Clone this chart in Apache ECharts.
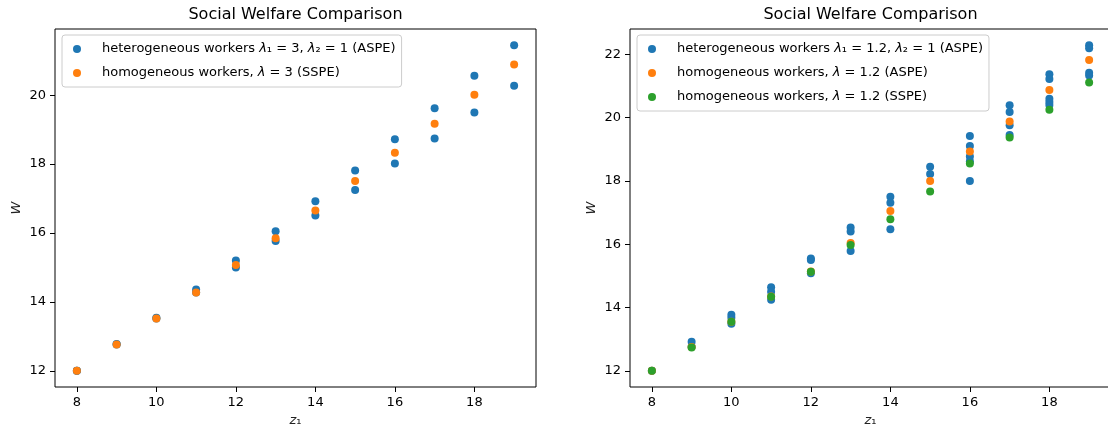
<!DOCTYPE html>
<html><head><meta charset="utf-8">
<script src="https://cdn.jsdelivr.net/npm/echarts@6/dist/echarts.min.js"></script>
<style>html,body{margin:0;padding:0;background:#fff}#c{width:1108px;height:430px}</style>
</head><body><div id="c"></div>
<script>
const z1 = [8, 9, 10, 11, 12, 13, 14, 15, 16, 17, 18, 19];
const xTicks = [8, 10, 12, 14, 16, 18];
const leftYTicks = [12, 14, 16, 18, 20];
const rightYTicks = [12, 14, 16, 18, 20, 22];
const xRange = [7.45, 19.55];
const leftYRange = [11.53, 21.92];
const rightYRange = [11.49, 22.80];

const chartTitle = 'Social Welfare Comparison';
const leftNames = [
  'heterogeneous workers λ₁ = 3, λ₂ = 1 (ASPE)',
  'homogeneous workers, λ = 3 (SSPE)'
];
const rightNames = [
  'heterogeneous workers λ₁ = 1.2, λ₂ = 1 (ASPE)',
  'homogeneous workers, λ = 1.2 (ASPE)',
  'homogeneous workers, λ = 1.2 (SSPE)'
];

// Left panel
const leftHeteroHigh = [12.00, 12.78, 13.54, 14.36, 15.20, 16.05, 16.92, 17.81, 18.72, 19.62, 20.56, 21.45];
const leftHeteroLow  = [12.00, 12.76, 13.52, 14.27, 15.00, 15.77, 16.51, 17.25, 18.02, 18.74, 19.50, 20.27];
const leftHomoSSPE   = [12.00, 12.76, 13.52, 14.27, 15.07, 15.85, 16.65, 17.51, 18.33, 19.17, 20.01, 20.89];

// Right panel (several heterogeneous outcomes per z1)
const rightHetero = [
  [12.00],
  [12.92, 12.76],
  [13.77, 13.68, 13.49],
  [14.64, 14.50, 14.25],
  [15.55, 15.50, 15.08],
  [16.53, 16.40, 15.79],
  [17.50, 17.31, 16.47],
  [18.45, 18.22],
  [19.42, 19.10, 18.77, 18.62, 18.00],
  [20.39, 20.18, 19.76, 19.45],
  [21.37, 21.22, 20.60, 20.49, 20.40],
  [22.29, 22.19, 21.42, 21.33]
];
const rightHomoASPE = [12.00, 12.75, 13.55, 14.35, 15.14, 16.04, 17.05, 18.00, 18.93, 19.88, 20.87, 21.82];
const rightHomoSSPE = [12.00, 12.74, 13.55, 14.34, 15.13, 15.98, 16.79, 17.67, 18.55, 19.37, 20.25, 21.11];

const FONT = 'DejaVu Sans';
const colors = ['#1f77b4', '#ff7f0e', '#2ca02c'];

const pairs = (vals) => z1.map((z, i) => [z, vals[i]]);
const leftHeteroData = z1.flatMap((z, i) => [[z, leftHeteroHigh[i]], [z, leftHeteroLow[i]]]);
const rightHeteroData = z1.flatMap((z, i) => rightHetero[i].map(v => [z, v]));

function xAxisFor(gi) {
  return {
    type: 'value', gridIndex: gi, min: xRange[0], max: xRange[1],
    axisLine: { show: false },
    axisTick: { show: true, customValues: xTicks, length: 5, lineStyle: { color: '#000', width: 1 } },
    axisLabel: { customValues: xTicks, margin: 9, color: '#000', fontSize: 13, fontFamily: FONT },
    splitLine: { show: false },
    name: '{it|z}₁', nameLocation: 'middle', nameGap: 27,
    nameTextStyle: { color: '#222', fontSize: 13, fontFamily: FONT,
      rich: { it: { fontStyle: 'italic', fontSize: 13, fontFamily: FONT, color: '#222' } } }
  };
}
function yAxisFor(gi, range, ticks) {
  return {
    type: 'value', gridIndex: gi, min: range[0], max: range[1],
    axisLine: { show: false },
    axisTick: { show: true, customValues: ticks, length: 5, lineStyle: { color: '#000', width: 1 } },
    axisLabel: { customValues: ticks, margin: 9, color: '#000', fontSize: 13, fontFamily: FONT },
    splitLine: { show: false },
    name: 'W', nameLocation: 'middle', nameRotate: 90, nameGap: 32,
    nameTextStyle: { color: '#222', fontSize: 13, fontStyle: 'italic', fontFamily: FONT }
  };
}
function legendFor(left, names) {
  return {
    orient: 'vertical', left: left, top: 35,
    padding: [6, 6, 6, 11],
    itemWidth: 16, itemHeight: 8, itemGap: 8,
    icon: 'circle',
    backgroundColor: 'rgba(255,255,255,0.8)',
    borderColor: '#cccccc', borderWidth: 1, borderRadius: 3,
    data: names,
    formatter: (n) => n.replace(/λ/g, '{it|λ}'),
    textStyle: { fontSize: 13, lineHeight: 16, color: '#000', fontFamily: FONT, padding: [0, 0, 0, 12],
      rich: { it: { fontStyle: 'italic', fontSize: 13, fontFamily: FONT, color: '#000' } } }
  };
}
function scatter(name, data, xi, color) {
  return { type: 'scatter', name: name, data: data, xAxisIndex: xi, yAxisIndex: xi,
    symbol: 'circle', symbolSize: 8, itemStyle: { color: color, opacity: 1 } };
}

const chart = echarts.init(document.getElementById('c'), null, { renderer: 'canvas' });
chart.setOption({
  animation: false,
  backgroundColor: '#fff',
  textStyle: { fontFamily: FONT },
  title: [
    { text: chartTitle, left: 295.5, top: 7, textAlign: 'center', padding: 0,
      textStyle: { fontSize: 16, fontWeight: 'normal', color: '#000', fontFamily: FONT } },
    { text: chartTitle, left: 870.5, top: 7, textAlign: 'center', padding: 0,
      textStyle: { fontSize: 16, fontWeight: 'normal', color: '#000', fontFamily: FONT } }
  ],
  grid: [
    { left: 55, top: 29, width: 481, height: 358, show: true, borderColor: '#000', borderWidth: 1,
      backgroundColor: 'transparent', containLabel: false, outerBoundsMode: 'none' },
    { left: 630, top: 29, width: 481, height: 358, show: true, borderColor: '#000', borderWidth: 1,
      backgroundColor: 'transparent', containLabel: false, outerBoundsMode: 'none' }
  ],
  xAxis: [xAxisFor(0), xAxisFor(1)],
  yAxis: [yAxisFor(0, leftYRange, leftYTicks), yAxisFor(1, rightYRange, rightYTicks)],
  legend: [legendFor(62, leftNames), legendFor(637, rightNames)],
  tooltip: { show: false },
  series: [
    scatter(leftNames[0], leftHeteroData, 0, colors[0]),
    scatter(leftNames[1], pairs(leftHomoSSPE), 0, colors[1]),
    scatter(rightNames[0], rightHeteroData, 1, colors[0]),
    scatter(rightNames[1], pairs(rightHomoASPE), 1, colors[1]),
    scatter(rightNames[2], pairs(rightHomoSSPE), 1, colors[2])
  ]
});
</script>
</body></html>
